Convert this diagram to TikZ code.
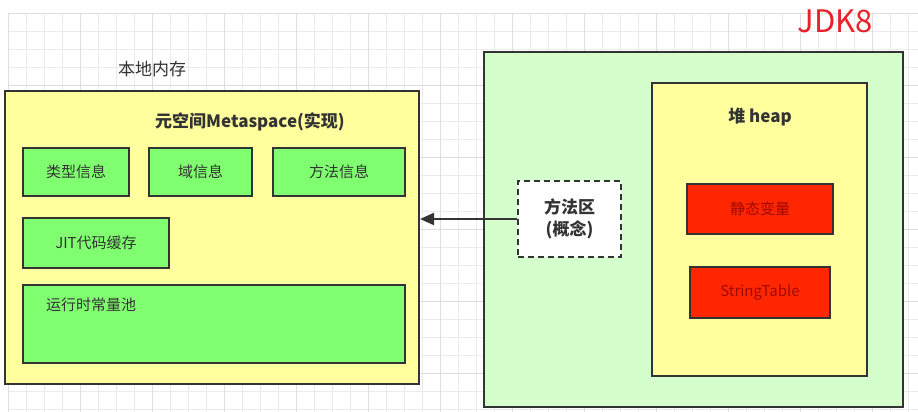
\documentclass[tikz,border=0pt]{standalone}
\usepackage{fontspec}
\setmainfont{Noto Sans CJK SC}
\usetikzlibrary{arrows.meta}
\definecolor{gridc}{HTML}{EBEBEB}
\definecolor{gridm}{HTML}{DEDEDE}
\definecolor{yel}{HTML}{FFFF9E}
\definecolor{grn}{HTML}{80FF70}
\definecolor{lgrn}{HTML}{D4FFCC}
\definecolor{rd}{HTML}{FF2600}
\definecolor{drd}{HTML}{A00A00}
\definecolor{edge}{HTML}{333333}
\definecolor{txt}{HTML}{333333}
\definecolor{jdk}{HTML}{E8212B}
\tikzset{
  box/.style={draw=edge, line width=2.1pt, rectangle, inner sep=0pt, text=txt, font=\fontsize{15}{18}\selectfont},
  yelbox/.style={box, fill=yel},
  grnbox/.style={box, fill=grn},
  lgrnbox/.style={box, fill=lgrn},
  redbox/.style={box, fill=rd, text=drd},
  dashbox/.style={box, fill=white, dash pattern=on 6pt off 4pt, line width=1.8pt, align=center, font=\fontsize{17}{22}\selectfont\bfseries},
  title/.style={text=txt, inner sep=0pt, font=\fontsize{17}{20}\selectfont},
  btitle/.style={title, font=\fontsize{17}{20}\selectfont\bfseries},
  conn/.style={draw=edge, line width=2.1pt, -{Triangle[length=14pt,width=12pt]}}
}
\begin{document}
\begin{tikzpicture}[x=1pt,y=-1pt]
\useasboundingbox (0,0) rectangle (918,412);
\fill[white] (0,0) rectangle (918,412);
% grid
\foreach \gx in {8,26,...,918} \draw[gridc, line width=0.8pt] (\gx,13) -- (\gx,412);
\foreach \gy in {13,31,...,412} \draw[gridc, line width=0.8pt] (8,\gy) -- (918,\gy);
\foreach \gx in {8,80,...,918} \draw[gridm, line width=0.8pt] (\gx,13) -- (\gx,412);
\foreach \gy in {13,85,...,412} \draw[gridm, line width=0.8pt] (8,\gy) -- (918,\gy);

% left: native memory
\node[title] (native) at (152,69) {本地内存};
\node[yelbox, minimum width=414pt, minimum height=293pt] (meta) at (212,237.5) {};
\node[btitle] (metatitle) at (250,122) {元空间Metaspace(实现)};
\node[grnbox, minimum width=106pt, minimum height=48pt] (type) at (76,172) {类型信息};
\node[grnbox, minimum width=103pt, minimum height=48pt] (field) at (200.5,172) {域信息};
\node[grnbox, minimum width=132pt, minimum height=48pt] (method) at (339,172) {方法信息};
\node[grnbox, minimum width=146pt, minimum height=50pt] (jit) at (96,243) {JIT代码缓存};
\node[grnbox, minimum width=382pt, minimum height=78pt] (rcp) at (214,324) {};
\node[title, font=\fontsize{15}{18}\selectfont, anchor=west] (rcplabel) at (46,305) {运行时常量池};

% right: JVM
\node[lgrnbox, minimum width=419pt, minimum height=355pt] (jvm) at (693.5,229.5) {};
\node[yelbox, minimum width=215pt, minimum height=293pt] (heap) at (759.5,229.5) {};
\node[btitle] (heaptitle) at (760,117) {堆 heap};
\node[redbox, minimum width=146pt, minimum height=50pt] (static) at (760,209) {静态变量};
\node[redbox, minimum width=140pt, minimum height=51pt] (strtab) at (760,292.5) {StringTable};
\node[dashbox, minimum width=103pt, minimum height=76pt] (area) at (569.5,219) {方法区\\(概念)};

\node[inner sep=0pt, text=jdk, font=\fontsize{31}{34}\selectfont] (jdk) at (835,21) {JDK8};

\draw[conn] (area.west) -- (area.west -| meta.east);
\end{tikzpicture}
\end{document}
